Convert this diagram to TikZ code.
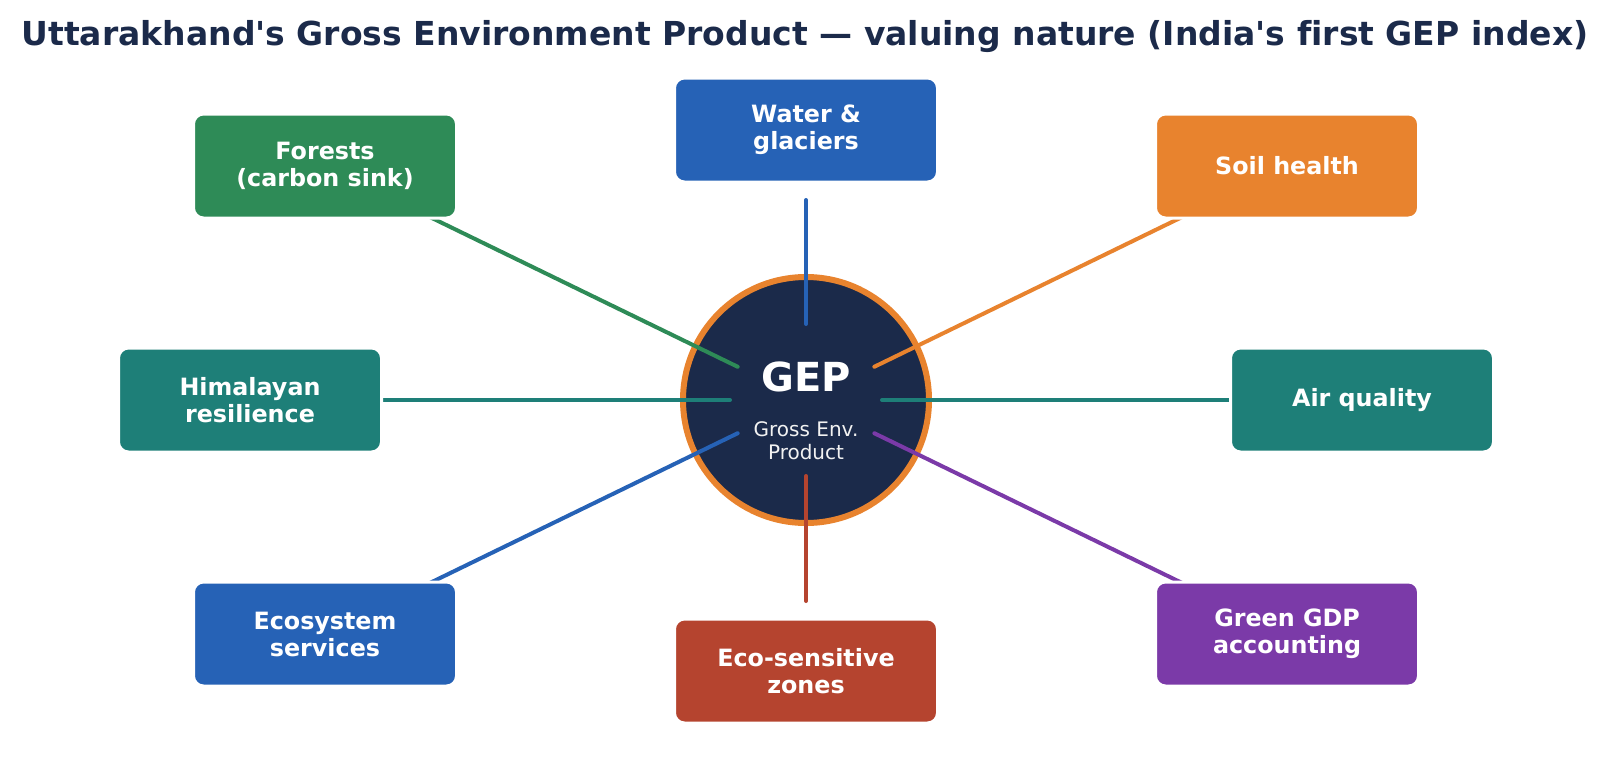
\documentclass[tikz,border=0pt]{standalone}
\usepackage{fontspec}
\setmainfont{DejaVu Sans}[Ligatures=NoCommon]
\usepackage{tikz}
\usetikzlibrary{calc}

\definecolor{navy}{HTML}{1B2A4A}
\definecolor{forest}{HTML}{2E8B57}
\definecolor{river}{HTML}{2662B6}
\definecolor{soil}{HTML}{E8832E}
\definecolor{teal}{HTML}{1E7F78}
\definecolor{brick}{HTML}{B5442F}
\definecolor{plum}{HTML}{7B3AA8}

\begin{document}
\begin{tikzpicture}[x=1pt, y=-1pt,
    box/.style={rectangle, rounded corners=10pt, draw=white, line width=3pt,
                minimum width=263pt, minimum height=104pt, align=center,
                text=white, font=\fontsize{23.8}{27}\selectfont\bfseries},
    spoke/.style={line width=4pt, line cap=round}]
    \useasboundingbox (0, 0) rectangle (1611, 760);
    \node[text=navy, font=\fontsize{33}{40}\selectfont\bfseries] (title) at (805, 37)
        {Uttarakhand\textquotesingle s Gross Environment Product — valuing nature (India\textquotesingle s first GEP index)};
    \node[circle, fill=navy, draw=soil, line width=6pt, minimum size=246pt] (gep) at (806, 400) {};
    \node[text=white, font=\fontsize{40}{48}\selectfont\bfseries] (gepname) at (806, 377) {GEP};
    \node[text=white!90!gray, align=center, font=\fontsize{20}{22.6}\selectfont] (gepsub) at (806, 441)
        {Gross Env.\\Product};
    \foreach \x/\y/\col/\txt [count=\i from 1] in
        {325/166/forest/{Forests\\(carbon sink)},
         806/130/river/{Water \&\\glaciers},
         1287/166/soil/{Soil health},
         250/400/teal/{Himalayan\\resilience},
         1362/400/teal/{Air quality},
         325/634/river/{Ecosystem\\services},
         806/671/brick/{Eco-sensitive\\zones},
         1287/634/plum/{Green GDP\\accounting}}
    {
        \coordinate (c\i) at (\x, \y);
        \draw[spoke, \col] ($(gep)!76pt!(c\i)$) -- ($(c\i)!70pt!(gep)$);
        \node[box, fill=\col] (b\i) at (c\i) {\txt};
    }
\end{tikzpicture}
\end{document}
